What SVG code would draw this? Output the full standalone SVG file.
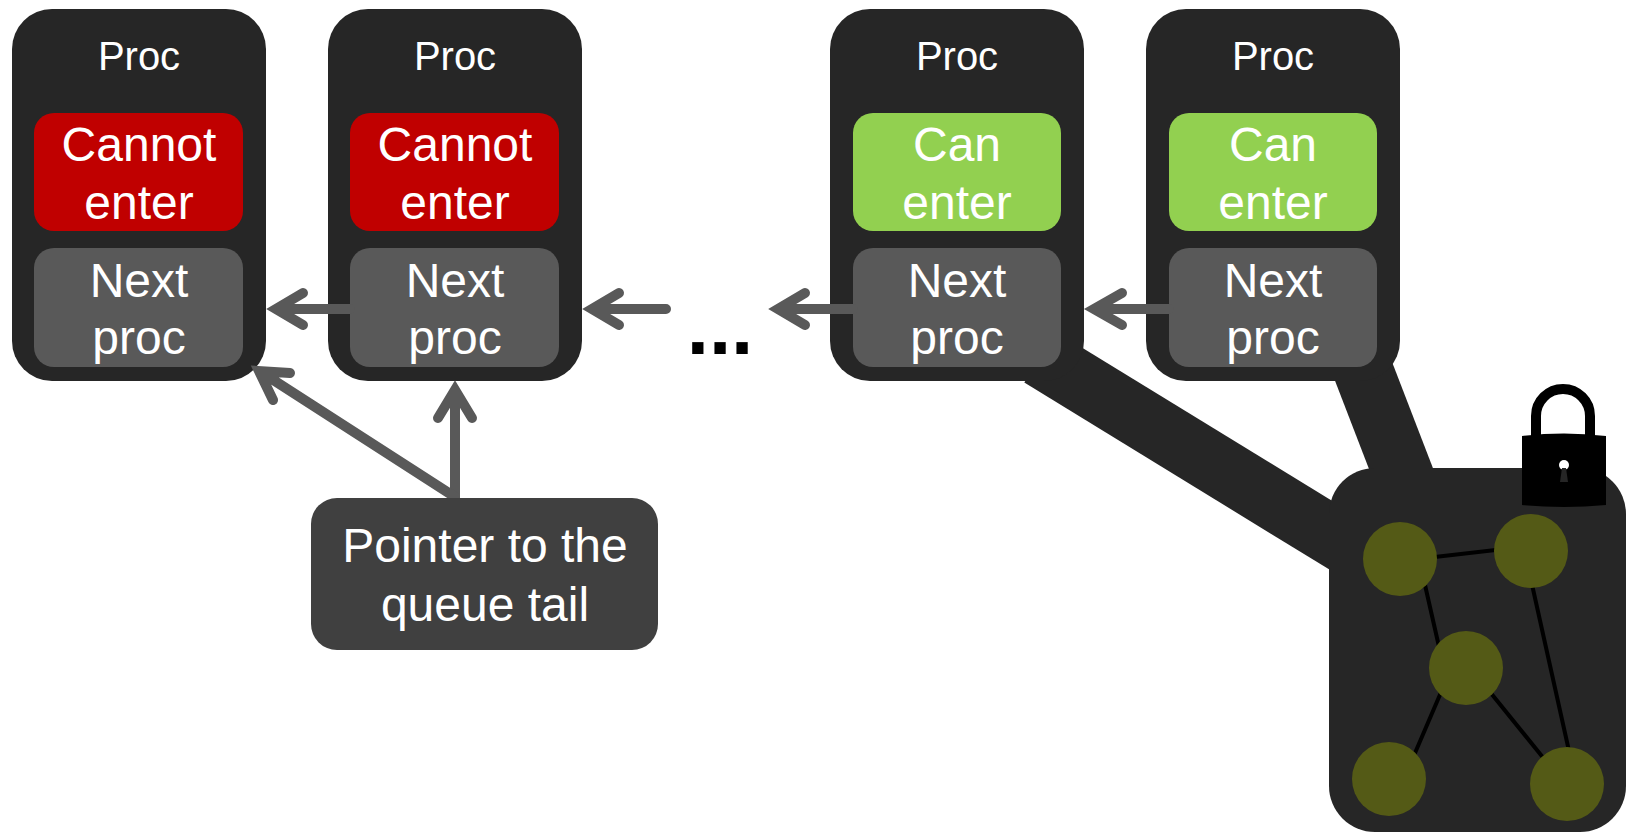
<svg xmlns="http://www.w3.org/2000/svg" width="1628" height="832" viewBox="0 0 1628 832">
<style>
text{font-family:"Liberation Sans",Arial,sans-serif;fill:#fff;text-anchor:middle}
.p{font-size:40px}.t{font-size:48px}
.card{fill:#262626}.next{fill:#595959}.no{fill:#c00000}.yes{fill:#92d050}
.c{fill:none;stroke:#595959;stroke-width:10;stroke-linecap:round;stroke-linejoin:miter;stroke-miterlimit:10}
.n{fill:#545a16}.e{stroke:#000;stroke-width:4;fill:none}
</style>
<rect width="1628" height="832" fill="#fff"/>
<g id="links">
<path d="M1040 357L1350 547" stroke="#262626" stroke-width="60" fill="none"/>
<path d="M1363 370L1410 492" stroke="#262626" stroke-width="60" fill="none"/>
</g>
<g id="proc1"><rect class="card" x="12" y="9" width="254" height="372" rx="40"/><text class="p" x="139" y="70">Proc</text><rect class="no" x="34" y="113" width="209" height="118" rx="20"/><text class="t" x="139" y="161">Cannot</text><text class="t" x="139" y="219">enter</text><rect class="next" x="34" y="248" width="209" height="119" rx="20"/><text class="t" x="139" y="297">Next</text><text class="t" x="139" y="354">proc</text></g>
<g id="proc2"><rect class="card" x="328" y="9" width="254" height="372" rx="40"/><text class="p" x="455" y="70">Proc</text><rect class="no" x="350" y="113" width="209" height="118" rx="20"/><text class="t" x="455" y="161">Cannot</text><text class="t" x="455" y="219">enter</text><rect class="next" x="350" y="248" width="209" height="119" rx="20"/><text class="t" x="455" y="297">Next</text><text class="t" x="455" y="354">proc</text></g>
<g id="proc3"><rect class="card" x="830" y="9" width="254" height="372" rx="40"/><text class="p" x="957" y="70">Proc</text><rect class="yes" x="853" y="113" width="208" height="118" rx="20"/><text class="t" x="957" y="161">Can</text><text class="t" x="957" y="219">enter</text><rect class="next" x="853" y="248" width="208" height="119" rx="20"/><text class="t" x="957" y="297">Next</text><text class="t" x="957" y="354">proc</text></g>
<g id="proc4"><rect class="card" x="1146" y="9" width="254" height="372" rx="40"/><text class="p" x="1273" y="70">Proc</text><rect class="yes" x="1169" y="113" width="208" height="118" rx="20"/><text class="t" x="1273" y="161">Can</text><text class="t" x="1273" y="219">enter</text><rect class="next" x="1169" y="248" width="208" height="119" rx="20"/><text class="t" x="1273" y="297">Next</text><text class="t" x="1273" y="354">proc</text></g>
<g id="connectors">
<path class="c" d="M350 309H280M303 293L276 309L303 325"/>
<path class="c" d="M666 309H596M619 293L592 309L619 325"/>
<path class="c" d="M853 309H783M805 293L778 309L805 325"/>
<path class="c" d="M1169 309H1099M1122 293L1094 309L1122 325"/>
<path class="c" d="M455 497V394M438 418L455 390L472 418"/>
<path class="c" d="M455 497L264 374M290 373L259 371L273 400"/>
</g>
<text id="dots" x="720" y="354" style="font-size:80px;font-weight:bold;fill:#000">...</text>
<g id="tail"><rect x="311" y="498" width="347" height="152" rx="26" fill="#404040"/><text class="t" x="485" y="562">Pointer to the</text><text class="t" x="485" y="621">queue tail</text></g>
<g id="graph">
<rect class="card" x="1329" y="468" width="297" height="364" rx="46"/>
<path class="e" d="M1400 561L1530 546M1425 585L1442 660M1531 580L1571 760M1442 690L1412 760M1490 692L1545 760"/>
<circle class="n" cx="1400" cy="559" r="37"/><circle class="n" cx="1531" cy="551" r="37"/><circle class="n" cx="1466" cy="668" r="37"/><circle class="n" cx="1389" cy="779" r="37"/><circle class="n" cx="1567" cy="784" r="37"/>
</g>
<g id="lock">
<path d="M1536 438V416a27 27 0 0 1 54 0V438" fill="none" stroke="#000" stroke-width="10"/>
<path d="M1522 436Q1564 431 1606 436V505Q1564 509 1522 505Z" fill="#000"/>
<circle cx="1564" cy="465" r="5" fill="#fff"/><path d="M1562 468H1566L1568 482H1560Z" fill="#262626"/>
</g>
</svg>
